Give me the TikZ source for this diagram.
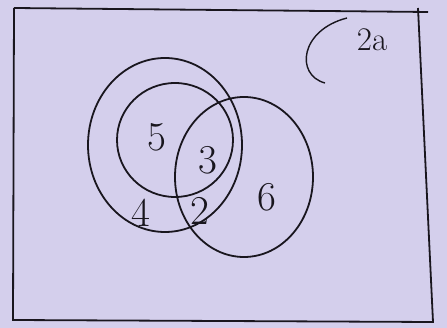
\documentclass[tikz,border=0pt]{standalone}
\usetikzlibrary{shapes.geometric}
\definecolor{paper}{RGB}{212,207,236}
\definecolor{ink}{RGB}{25,22,30}
\tikzset{
  setring/.style={draw=ink, line width=1.8pt, ellipse, inner sep=0pt},
  numlabel/.style={text=ink, font=\fontsize{41}{43}\selectfont, inner sep=0pt},
  smalllabel/.style={text=ink, font=\fontsize{33}{35}\selectfont, inner sep=0pt},
}
\begin{document}
\begin{tikzpicture}[x=1pt,y=-1pt]
\useasboundingbox (0,0) rectangle (447,328);
\fill[paper] (0,0) rectangle (447,328);
% universal set box
\coordinate (tl) at (14,8);
\coordinate (tr) at (428,12);
\coordinate (br) at (433,322);
\coordinate (bl) at (13,320);
\draw[ink, line width=1.8pt] (tl) -- (tr) (418,8) -- (br) -- (bl) -- (tl);
% sets
\node[setring, minimum width=154pt, minimum height=174pt] (outer) at (165,145) {};
\node[setring, minimum width=116pt, minimum height=114pt] (inner) at (175,140) {};
\node[setring, minimum width=138pt, minimum height=160pt] (right) at (244,177) {};
% small open curve top right
\coordinate (c1) at (347,18);
\coordinate (c3) at (325,83);
\draw[ink, line width=1.4pt] (c1) .. controls (300,30) and (295,75) .. (c3);
% labels
\node[numlabel] (n5) at (157,137) {5};
\node[numlabel] (n3) at (208,160) {3};
\node[numlabel] (n6) at (267,197) {6};
\node[numlabel] (n4) at (141,213) {4};
\node[numlabel] (n2) at (200,211) {2};
\node[smalllabel] (n2a) at (372,40) {2a};
\end{tikzpicture}
\end{document}
